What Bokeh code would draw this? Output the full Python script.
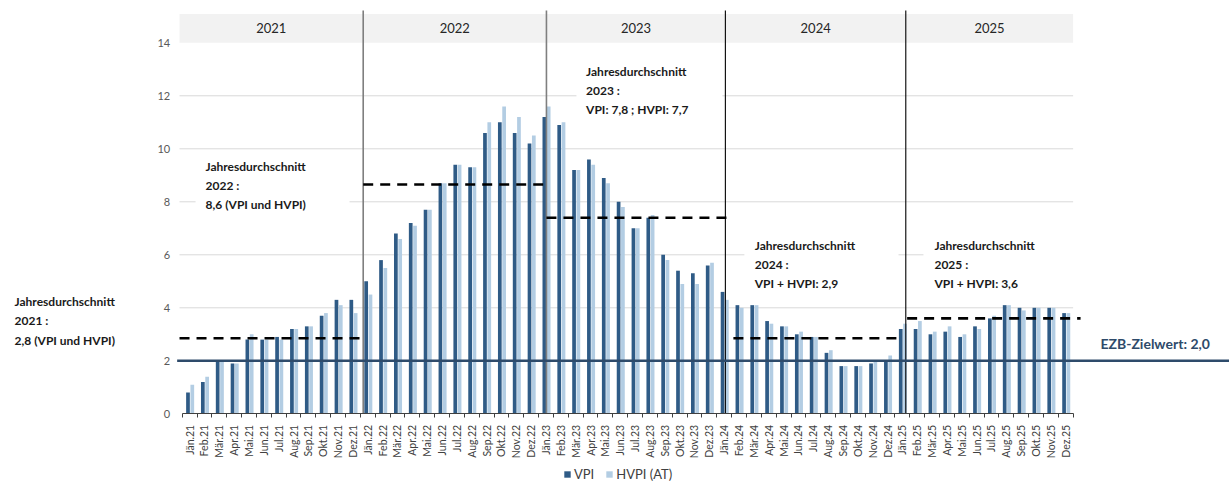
import math
from bokeh.plotting import figure
from bokeh.models import Range1d, FixedTicker, Label, Legend, LegendItem, ColumnDataSource
from bokeh.embed import file_html
from bokeh.resources import INLINE
from bokeh.core.properties import value

# ---------------- data ----------------
month_names = ["Jän", "Feb", "Mär", "Apr", "Mai", "Jun", "Jul", "Aug", "Sep", "Okt", "Nov", "Dez"]
years = ["2021", "2022", "2023", "2024", "2025"]
months = [f"{m}.{y[2:]}" for y in years for m in month_names]

vpi = [0.8, 1.2, 2.0, 1.9, 2.8, 2.8, 2.9, 3.2, 3.3, 3.7, 4.3, 4.3,
       5.0, 5.8, 6.8, 7.2, 7.7, 8.7, 9.4, 9.3, 10.6, 11.0, 10.6, 10.2,
       11.2, 10.9, 9.2, 9.6, 8.9, 8.0, 7.0, 7.4, 6.0, 5.4, 5.3, 5.6,
       4.6, 4.1, 4.1, 3.5, 3.3, 3.0, 2.9, 2.3, 1.8, 1.8, 1.9, 2.0,
       3.2, 3.2, 3.0, 3.1, 2.9, 3.3, 3.6, 4.1, 4.0, 4.0, 4.0, 3.8]
hvpi = [1.1, 1.4, 2.0, 1.9, 3.0, 2.8, 2.8, 3.2, 3.3, 3.8, 4.1, 3.8,
        4.5, 5.5, 6.6, 7.1, 7.7, 8.7, 9.4, 9.3, 11.0, 11.6, 11.2, 10.5,
        11.6, 11.0, 9.2, 9.4, 8.7, 7.8, 7.0, 7.5, 5.8, 4.9, 4.9, 5.7,
        4.3, 4.0, 4.1, 3.4, 3.3, 3.1, 2.9, 2.4, 1.8, 1.8, 2.0, 2.2,
        3.4, 3.5, 3.1, 3.3, 3.0, 3.2, 3.7, 4.1, 3.9, 4.0, 4.0, 3.8]

year_avg_drawn = [2.85, 8.65, 7.4, 2.85, 3.6]
ezb_target = 2.0
y_ticks = [0, 2, 4, 6, 8, 10, 12, 14]
annotation_texts = [
    "Jahresdurchschnitt\n2021 :\n2,8 (VPI und HVPI)",
    "Jahresdurchschnitt\n2022 :\n8,6 (VPI und HVPI)",
    "Jahresdurchschnitt\n2023 :\nVPI: 7,8 ; HVPI: 7,7",
    "Jahresdurchschnitt\n2024 :\nVPI + HVPI: 2,9",
    "Jahresdurchschnitt\n2025 :\nVPI + HVPI: 3,6",
]
ezb_text = "EZB-Zielwert: 2,0"

# ---------------- layout constants ----------------
DARK = "#2f5b86"
LIGHT = "#b3cde3"
FONT = "Lato"
idx = list(range(len(months)))

p = figure(width=1229, height=483,
           x_range=Range1d(-12.736, 70.03), y_range=Range1d(-2.630, 15.596),
           output_backend="svg", toolbar_location=None,
           min_border_left=0, min_border_right=0, min_border_top=0, min_border_bottom=0)
p.outline_line_color = None
p.xgrid.visible = False
p.ygrid.visible = False
p.background_fill_color = "white"

# header band with year names
p.quad(left=[-0.68], right=[59.5], bottom=[14], top=[15.09], fill_color="#f2f2f2", line_color=None)
year_x = [5.5, 17.86, 30.06, 42.16, 53.87]
p.text(x=year_x, y=[14.54] * 5, text=years, text_font=value(FONT), text_font_size="13px",
       text_color="#262626", text_align="center", text_baseline="middle")

# gridlines
grid_y = [t for t in y_ticks if 0 < t < 14]
p.segment(x0=[-0.68] * len(grid_y), x1=[59.5] * len(grid_y), y0=grid_y, y1=grid_y,
          line_color="#d9d9d9", line_width=1)

# white annotation boxes
p.quad(left=[0.4, 26.05, 37.36, 49.42], right=[10.77, 35.88, 47.74, 60.0],
       bottom=[7.4, 11.1, 4.58, 4.58], top=[9.85, 13.4, 6.84, 6.84],
       fill_color="white", line_color=None)

src = ColumnDataSource(dict(xd=[i - 0.11 for i in idx], xl=[i + 0.18 for i in idx], vpi=vpi, hvpi=hvpi))
r_dark = p.vbar(x="xd", top="vpi", bottom=0, width=0.25, source=src, fill_color=DARK, line_color=None)
r_light = p.vbar(x="xl", top="hvpi", bottom=0, width=0.25, source=src, fill_color=LIGHT, line_color=None)

# year separators
p.segment(x0=[11.69, 24.03], x1=[11.69, 24.03], y0=[0, 0], y1=[15.22, 15.22], line_color="#7f7f7f", line_width=1.6)
p.segment(x0=[36.08, 48.23], x1=[36.08, 48.23], y0=[0, 0], y1=[15.22, 15.22], line_color="#000000", line_width=1.1)

# yearly averages (dashed)
avg_x0 = [-0.68, 11.69, 24.03, 36.62, 48.32]
avg_x1 = [11.55, 24.03, 36.27, 47.74, 60.0]
p.segment(x0=avg_x0, x1=avg_x1, y0=year_avg_drawn, y1=year_avg_drawn,
          line_color="black", line_width=2.6, line_dash="10 7")

# ECB target
p.segment(x0=[-0.84], x1=[70.03], y0=[ezb_target], y1=[ezb_target], line_color="#2e4b6b", line_width=2.6)
p.text(x=[61.34], y=[ezb_target + 0.65], text=[ezb_text], text_font=value(FONT), text_font_size="14px",
       text_font_style="bold", text_color="#2e4a6a", text_align="left", text_baseline="middle")

# annotation labels
ann_x = [-11.79, 1.07, 26.7, 38.06, 50.16]
ann_y = [4.51, 9.63, 13.21, 6.64, 6.64]
for tx, ax, ay in zip(annotation_texts, ann_x, ann_y):
    p.add_layout(Label(x=ax, y=ay, text=tx, text_font=FONT, text_font_size="12px", text_font_style="bold",
                       text_color="#1a1a1a", text_align="left", text_baseline="top", text_line_height=1.28))

# axes
xa = p.xaxis[0]
xa.fixed_location = 0
xa.ticker = FixedTicker(ticks=idx, minor_ticks=[i - 0.5 for i in range(len(months) + 1)])
xa.major_label_overrides = {i: m for i, m in zip(idx, months)}
xa.bounds = (-0.5, 59.5)
xa.axis_line_color = "#404040"
xa.major_tick_line_color = None
xa.major_tick_out = 0
xa.major_tick_in = 0
xa.minor_tick_line_color = "#404040"
xa.minor_tick_out = 4
xa.minor_tick_in = 0
xa.major_label_orientation = math.pi / 2
xa.major_label_standoff = 7
xa.major_label_text_font = FONT
xa.major_label_text_font_size = "10.5px"
xa.major_label_text_color = "#404040"

ya = p.yaxis[0]
ya.fixed_location = -0.5
ya.ticker = FixedTicker(ticks=y_ticks)
ya.axis_line_color = None
ya.major_tick_line_color = None
ya.minor_tick_line_color = None
ya.major_tick_out = 0
ya.major_tick_in = 0
ya.major_label_standoff = 12
ya.major_label_text_font = FONT
ya.major_label_text_font_size = "11px"
ya.major_label_text_color = "#595959"

legend = Legend(items=[LegendItem(label="VPI", renderers=[r_dark]),
                       LegendItem(label="HVPI (AT)", renderers=[r_light])],
                orientation="horizontal", location=(563, 1),
                label_text_font=FONT, label_text_font_size="13px", label_text_color="#404040",
                glyph_width=8, glyph_height=8, label_standoff=3, spacing=11, padding=0, margin=0,
                label_height=14, border_line_color=None, background_fill_alpha=0)
p.add_layout(legend)

open("out.html", "w").write(file_html(p, INLINE))
